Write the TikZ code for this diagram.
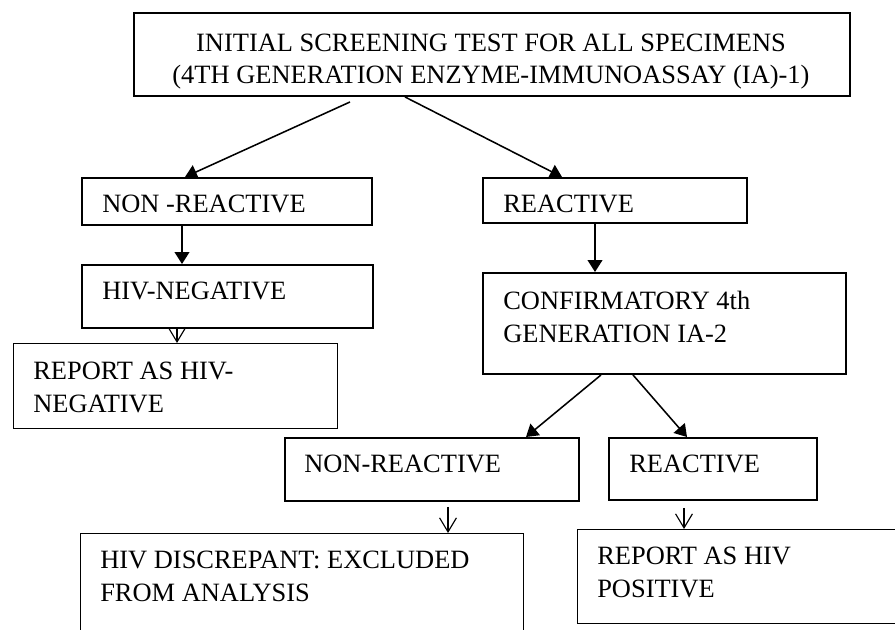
\documentclass[tikz,border=0pt]{standalone}
\usepackage{fontspec}
\setmainfont{Liberation Serif}
\usetikzlibrary{arrows.meta}

\newcommand\pxu{0.025cm}
\tikzset{
  box/.style={draw, line width=1.4pt, inner sep=0pt, anchor=north west},
  thinbox/.style={draw, line width=0.9pt, inner sep=0pt, anchor=north west},
  txt/.style={inner sep=0pt, align=left, anchor=base west,
    font=\fontsize{18.8}{23.4}\selectfont},
  solid arrow/.style={line width=1.1pt, -{Triangle[length=8.5pt,width=10.5pt]}},
  open arrow/.style={line width=0.8pt, -{Straight Barb[length=10pt,width=12pt]}}
}

\begin{document}
\begin{tikzpicture}[x=\pxu, y=\pxu]
\useasboundingbox (0,0) rectangle (895,-630);
\clip (0,0) rectangle (895,-630);

\node[box, minimum width=716*\pxu, minimum height=83*\pxu] (screen) at (133,-12) {};
\node[txt, align=center, anchor=base] (tscreen) at (491,-84)
  {INITIAL SCREENING TEST FOR ALL SPECIMENS\\(4TH GENERATION ENZYME-IMMUNOASSAY (IA)-1)};

\node[box, minimum width=290*\pxu, minimum height=47*\pxu] (nonreact) at (81,-177) {};
\node[txt] (tnonreact) at (102,-212) {NON -REACTIVE};
\node[box, minimum width=264*\pxu, minimum height=45*\pxu] (react) at (482,-177) {};
\node[txt] (treact) at (503,-212) {REACTIVE};

\node[box, minimum width=291*\pxu, minimum height=63*\pxu] (hivneg) at (81,-264) {};
\node[txt] (thivneg) at (102,-300) {HIV-NEGATIVE};
\node[thinbox, minimum width=324*\pxu, minimum height=85*\pxu] (repneg) at (13,-343) {};
\node[txt] (trepneg) at (33,-412) {REPORT AS HIV-\\NEGATIVE};

\node[box, minimum width=363*\pxu, minimum height=101*\pxu] (confirm) at (482,-272) {};
\node[txt] (tconfirm) at (503,-342) {CONFIRMATORY 4th\\GENERATION IA-2};

\node[box, minimum width=294*\pxu, minimum height=63*\pxu] (nonreacttwo) at (284,-437) {};
\node[txt] (tnonreacttwo) at (304,-472) {NON-REACTIVE};
\node[box, minimum width=208*\pxu, minimum height=62*\pxu] (reacttwo) at (608,-437) {};
\node[txt] (treacttwo) at (629,-472) {REACTIVE};

\node[thinbox, minimum width=443*\pxu, minimum height=130*\pxu] (discrep) at (80,-533) {};
\node[txt] (tdiscrep) at (100,-601) {HIV DISCREPANT: EXCLUDED\\FROM ANALYSIS};
\node[thinbox, minimum width=343*\pxu, minimum height=94*\pxu] (reppos) at (577,-529) {};
\node[txt] (treppos) at (597,-597) {REPORT AS HIV\\POSITIVE};

\draw[solid arrow] ([shift={(217,-5)}]screen.south west) -- ([shift={(104,0)}]nonreact.north west);
\draw[solid arrow] ([shift={(272,0)}]screen.south west) -- ([shift={(80,0)}]react.north west);
\draw[solid arrow] ([shift={(101,0)}]nonreact.south west) -- ([shift={(101,0)}]hivneg.north west);
\draw[open arrow] ([shift={(96,0)}]hivneg.south west) -- ([shift={(164,0)}]repneg.north west);
\draw[solid arrow] ([shift={(113,0)}]react.south west) -- ([shift={(113,0)}]confirm.north west);
\draw[solid arrow] ([shift={(119,0)}]confirm.south west) -- ([shift={(242,0)}]nonreacttwo.north west);
\draw[solid arrow] ([shift={(151,0)}]confirm.south west) -- ([shift={(79,0)}]reacttwo.north west);
\draw[open arrow] ([shift={(164,-5)}]nonreacttwo.south west) -- ([shift={(368,0)}]discrep.north west);
\draw[open arrow] ([shift={(76,-7)}]reacttwo.south west) -- ([shift={(107,0)}]reppos.north west);
\end{tikzpicture}
\end{document}
